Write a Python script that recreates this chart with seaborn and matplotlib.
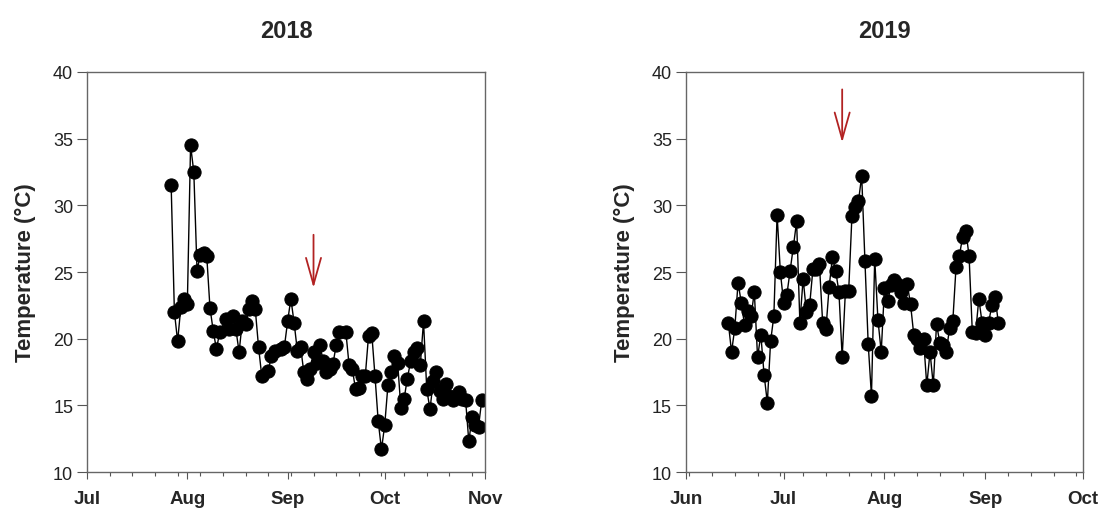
import matplotlib
matplotlib.use("Agg")
import matplotlib.pyplot as plt
import matplotlib.dates as mdates
import seaborn as sns
import pandas as pd
import numpy as np

# ---- data: 2018 (days after 1 Jul 2018) ----
days_2018 = [26, 27, 28, 29, 30, 31, 32, 33, 34, 35, 36, 37, 38, 39, 40, 41, 43, 44, 45, 46,
             47, 48, 49, 50, 51, 52, 53, 54, 56, 57, 58, 60, 61, 62, 63, 64, 65, 66, 67, 68,
             69, 70, 71, 72, 73, 74, 75, 76, 77, 78, 80, 81, 82, 83, 84, 85, 86, 87, 88, 89,
             90, 91, 92, 93, 94, 95, 96, 97, 98, 99, 100, 101, 102, 103, 104, 105, 106, 107, 108, 109,
             110, 111, 112, 113, 115, 116, 117, 118, 119, 120, 121, 122]
temp_2018 = [31.5, 22.0, 19.8, 22.4, 23.0, 22.6, 34.5, 32.5, 25.1, 26.3, 26.4, 26.2, 22.3, 20.6, 19.2, 20.5, 21.5, 20.7, 21.7, 20.7,
             19.0, 21.3, 21.1, 22.2, 22.8, 22.2, 19.4, 17.2, 17.6, 18.7, 19.1, 19.2, 19.4, 21.3, 23.0, 21.2, 19.1, 19.4, 17.5, 17.0,
             17.7, 19.0, 18.2, 19.5, 18.3, 17.5, 17.7, 18.1, 19.5, 20.5, 20.5, 18.0, 17.7, 16.2, 16.3, 17.2, 17.2, 20.2, 20.4, 17.2,
             13.8, 11.7, 13.5, 16.5, 17.5, 18.7, 18.2, 14.8, 15.5, 17.0, 18.3, 19.0, 19.3, 18.0, 21.3, 16.2, 14.7, 16.8, 17.5, 16.1,
             15.5, 16.6, 15.7, 15.4, 16.0, 15.5, 15.4, 12.3, 14.1, 13.5, 13.4, 15.4]

# ---- data: 2019 (days after 1 Jun 2019) ----
days_2019 = [13, 14, 15, 16, 17, 18, 19, 20, 21, 22, 23, 24, 25, 26, 27, 28, 29, 30, 31, 32,
             33, 34, 35, 36, 37, 38, 39, 40, 41, 42, 43, 44, 45, 46, 47, 48, 49, 50, 51, 52,
             53, 54, 55, 56, 57, 58, 59, 60, 61, 62, 63, 64, 65, 66, 67, 68, 69, 70, 71, 72,
             73, 74, 75, 76, 77, 78, 79, 80, 81, 82, 83, 84, 85, 86, 87, 88, 89, 90, 91, 92,
             93, 94, 95, 96]
temp_2019 = [21.2, 19.0, 20.8, 24.2, 22.7, 21.0, 22.1, 21.7, 23.5, 18.6, 20.3, 17.3, 15.2, 19.8, 21.7, 29.3, 25.0, 22.7, 23.3, 25.1,
             26.9, 28.8, 21.2, 24.5, 22.0, 22.5, 25.2, 25.2, 25.6, 21.2, 20.7, 23.9, 26.1, 25.1, 23.5, 18.6, 23.6, 23.6, 29.2, 29.9,
             30.3, 32.2, 25.8, 19.6, 15.7, 26.0, 21.4, 19.0, 23.8, 22.8, 24.0, 24.4, 24.1, 23.5, 22.7, 24.1, 22.6, 20.3, 20.0, 19.3,
             20.0, 16.5, 19.0, 16.5, 21.1, 19.7, 19.5, 19.0, 20.8, 21.3, 25.4, 26.2, 27.6, 28.1, 26.2, 20.5, 20.4, 23.0, 21.2, 20.3,
             21.2, 22.5, 23.1, 21.2]

titles = ["2018", "2019"]
base_dates = ["2018-07-01", "2019-06-01"]
x_ranges = [("2018-07-01", "2018-11-01"), ("2019-06-01", "2019-10-01")]
arrow_dates = ["2018-09-09", "2019-07-19"]
arrow_from = [28.0, 38.9]
arrow_to = [23.6, 34.5]
y_ticks = [10, 15, 20, 25, 30, 35, 40]
y_label = "Temperature (°C)"

sns.set_theme(style="white")
plt.rcParams['font.family'] = ['Liberation Sans', 'DejaVu Sans']

fig = plt.figure(figsize=(10.99, 5.10), dpi=100)
ax_positions = [[0.0792, 0.0725, 0.3621, 0.7844], [0.6242, 0.0725, 0.3612, 0.7844]]

series = [(days_2018, temp_2018), (days_2019, temp_2019)]
for i in range(2):
    ax = fig.add_axes(ax_positions[i])
    d, t = series[i]
    dates = pd.Timestamp(base_dates[i]) + pd.to_timedelta(d, unit="D")
    df = pd.DataFrame({"date": dates, "temp": t})
    sns.lineplot(data=df, x="date", y="temp", ax=ax, color="black", lw=1.0,
                 marker="o", markersize=9.5, markeredgecolor="black", markerfacecolor="black")
    ax.set_xlim(pd.Timestamp(x_ranges[i][0]), pd.Timestamp(x_ranges[i][1]))
    ax.set_ylim(10, 40)
    ax.set_yticks(y_ticks)
    ax.xaxis.set_major_locator(mdates.MonthLocator())
    ax.xaxis.set_major_formatter(mdates.DateFormatter("%b"))
    ax.xaxis.set_minor_locator(mdates.WeekdayLocator(byweekday=mdates.SU))
    ax.tick_params(axis="y", which="major", direction="out", length=7, width=0.8,
                   color="#555555", labelsize=13, labelcolor="#222222", left=True, pad=3)
    ax.tick_params(axis="x", which="major", direction="out", length=5, width=0.8,
                   color="#555555", bottom=True, pad=8)
    ax.tick_params(axis="x", which="minor", direction="out", length=3, width=0.8,
                   color="#555555", bottom=True)
    for lab in ax.get_xticklabels():
        lab.set_fontweight("bold")
        lab.set_fontsize(13.5)
        lab.set_family(["Liberation Sans Narrow", "Liberation Sans", "DejaVu Sans"])
    for s in ax.spines.values():
        s.set_color("#666666")
        s.set_linewidth(1.0)
    ax.set_xlabel("")
    ax.set_ylabel(y_label, fontsize=16, fontweight="bold", labelpad=12)
    ax.set_title(titles[i], fontsize=17, fontweight="bold", pad=25)
    ax.annotate("", xy=(pd.Timestamp(arrow_dates[i]), arrow_to[i]),
                xytext=(pd.Timestamp(arrow_dates[i]), arrow_from[i]),
                arrowprops=dict(arrowstyle="->,head_length=1.6,head_width=0.45",
                                color="#b22222", lw=1.3))

fig.savefig("out.png", dpi=100)
